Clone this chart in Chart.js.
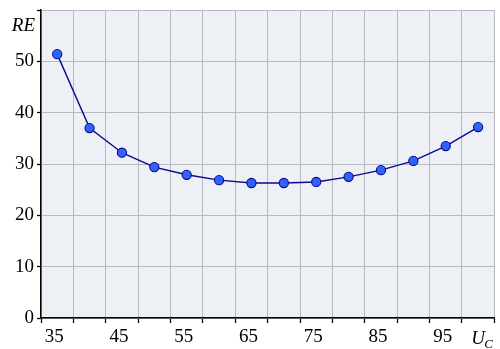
<!DOCTYPE html>
<html>
<head>
<meta charset="utf-8">
<script src="https://cdn.jsdelivr.net/npm/chart.js@4"></script>
<style>
  html, body { margin: 0; padding: 0; background: #ffffff; }
  canvas { display: block; }
</style>
</head>
<body>
<canvas id="c" width="500" height="349"></canvas>
<script>
// U_C categories and the RE value measured at each one
const uValues = ['35', '40', '45', '50', '55', '60', '65', '70', '75', '80', '85', '90', '95', '100'];
const reValues = [51.4, 37.0, 32.2, 29.4, 27.9, 26.85, 26.3, 26.3, 26.5, 27.5, 28.8, 30.6, 33.5, 37.2];
const yTicks = [0, 10, 20, 30, 40, 50];

const serif = '"Liberation Serif", "DejaVu Serif", serif';

// Shaded plot area plus the italic axis names "RE" and "U_C"
const decor = {
  id: 'decor',
  beforeDraw(chart) {
    const { ctx, chartArea: a } = chart;
    ctx.save();
    ctx.fillStyle = '#edf0f5';
    ctx.fillRect(a.left, a.top, a.right - a.left, a.bottom - a.top);
    ctx.restore();
  },
  afterDraw(chart) {
    const { ctx, chartArea: a } = chart;
    ctx.save();
    ctx.fillStyle = '#000';
    ctx.textBaseline = 'alphabetic';
    ctx.font = 'italic 19px ' + serif;
    ctx.textAlign = 'right';
    ctx.fillText('RE', a.left - 6, 31);
    ctx.textAlign = 'left';
    ctx.fillText('U', a.right - 23, a.bottom + 26);
    ctx.font = 'italic 13px ' + serif;
    ctx.fillText('C', a.right - 10, a.bottom + 30);
    ctx.restore();
  }
};

new Chart(document.getElementById('c'), {
  type: 'line',
  data: {
    labels: uValues,
    datasets: [{
      data: reValues,
      borderColor: '#0a0a8a',
      borderWidth: 1.4,
      backgroundColor: '#2f62ff',
      pointBorderColor: '#0a0a8a',
      pointBorderWidth: 1.1,
      pointRadius: 4.6,
      pointHoverRadius: 4.6,
      tension: 0,
      fill: false
    }]
  },
  options: {
    responsive: false,
    animation: false,
    events: [],
    layout: { padding: { top: 10, right: 1, left: 0, bottom: 0 } },
    plugins: { legend: { display: false }, tooltip: { enabled: false } },
    scales: {
      x: {
        type: 'category',
        offset: true,
        afterFit(s) { s.height = 31; s.paddingLeft = 0; s.paddingRight = 0; },
        grid: {
          offset: true,
          color: '#b8b9c0',
          lineWidth: 1,
          drawTicks: true,
          tickLength: 5,
          tickColor: '#000',
          tickWidth: 1.3
        },
        border: { color: '#000', width: 1.5 },
        ticks: {
          autoSkip: false,
          maxRotation: 0,
          padding: 3,
          labelOffset: -3,
          color: '#000',
          font: { family: serif, size: 19 },
          callback(v, i) { return (i % 2 === 0 && i < uValues.length - 1) ? uValues[i] : ''; }
        }
      },
      y: {
        min: 0,
        max: 60,
        afterFit(s) { s.width = 41; s.paddingTop = 0; s.paddingBottom = 0; },
        afterBuildTicks(s) { s.ticks = yTicks.concat([60]).map(v => ({ value: v })); },
        grid: {
          color: '#b8b9c0',
          lineWidth: 1,
          tickLength: 4,
          tickColor: '#000',
          tickWidth: 1.3
        },
        border: { color: '#000', width: 1.5 },
        ticks: {
          padding: 3,
          color: '#000',
          font: { family: serif, size: 19 },
          callback(v) { return yTicks.includes(v) ? String(v) : ''; }
        }
      }
    }
  },
  plugins: [decor]
});
</script>
</body>
</html>
